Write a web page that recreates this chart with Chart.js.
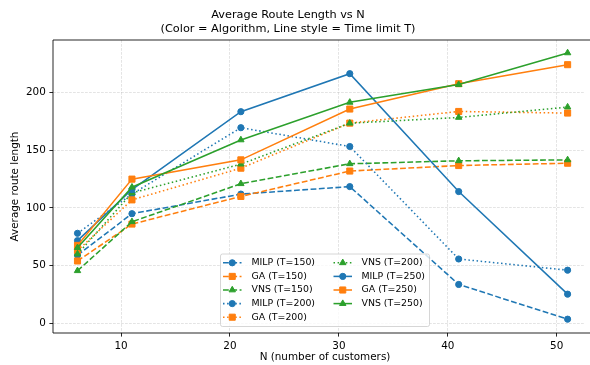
<!DOCTYPE html>
<html><head><meta charset="utf-8">
<script src="https://cdn.jsdelivr.net/npm/chart.js@4.4.1/dist/chart.umd.min.js"></script>
<style>html,body{margin:0;padding:0;background:#fff;}</style>
</head><body>
<canvas id="c" width="590" height="365" style="display:block;width:590px;height:365px"></canvas>
<script>
// ---- data ----
const N = [6, 11, 21, 31, 41, 51];
const milpT150 = [59, 95, 112, 118.5, 33.6, 3.5];
const gaT150   = [54, 86, 110, 132, 136.8, 138.8];
const vnsT150  = [45.5, 88, 121, 138.3, 140.9, 141.7];
const milpT200 = [78, 112, 169.6, 153.3, 55.7, 46];
const gaT200   = [63, 107, 134.5, 173.6, 183.7, 182.3];
const vnsT200  = [60, 113, 138, 173.5, 178.5, 187.5];
const milpT250 = [71.6, 116, 183.5, 216.5, 114.2, 25.2];
const gaT250   = [67.5, 125, 141.7, 185.8, 207.8, 224.3];
const vnsT250  = [65.5, 118, 159, 191.6, 207, 234.5];
const xTicks = [10, 20, 30, 40, 50];
const yTicks = [0, 50, 100, 150, 200];
const titleLines = ['Average Route Length vs N', '(Color = Algorithm, Line style = Time limit T)'];
const xTitle = 'N (number of customers)';
const yTitle = 'Average route length';

const series = [
  {label: 'MILP (T=150)', alg: 'MILP', T: 150, values: milpT150},
  {label: 'GA (T=150)',   alg: 'GA',   T: 150, values: gaT150},
  {label: 'VNS (T=150)',  alg: 'VNS',  T: 150, values: vnsT150},
  {label: 'MILP (T=200)', alg: 'MILP', T: 200, values: milpT200},
  {label: 'GA (T=200)',   alg: 'GA',   T: 200, values: gaT200},
  {label: 'VNS (T=200)',  alg: 'VNS',  T: 200, values: vnsT200},
  {label: 'MILP (T=250)', alg: 'MILP', T: 250, values: milpT250},
  {label: 'GA (T=250)',   alg: 'GA',   T: 250, values: gaT250},
  {label: 'VNS (T=250)',  alg: 'VNS',  T: 250, values: vnsT250}
];

// ---- styles ----
const FONT = 'DejaVu Sans';
const algColor = {MILP: '#1f77b4', GA: '#ff7f0e', VNS: '#2ca02c'};
const algPoint = {MILP: ['circle', 3.1], GA: ['rect', 4.3], VNS: ['triangle', 3.7]};
const tDash = {150: [5.8, 2.5], 200: [1.5, 2.6], 250: []};
const LW = 1.55;

const datasets = series.map((s, i) => ({
  label: s.label,
  data: N.map((n, k) => ({x: n, y: s.values[k]})),
  borderColor: algColor[s.alg],
  backgroundColor: algColor[s.alg],
  borderWidth: LW,
  borderDash: tDash[s.T],
  pointStyle: algPoint[s.alg][0],
  pointRadius: algPoint[s.alg][1],
  pointHoverRadius: algPoint[s.alg][1],
  pointBorderWidth: 1,
  pointBackgroundColor: algColor[s.alg],
  pointBorderColor: algColor[s.alg],
  tension: 0,
  fill: false,
  order: series.length - 1 - i
}));

function drawMarker(ctx, style, r, x, y, color) {
  ctx.save();
  ctx.fillStyle = color; ctx.strokeStyle = color; ctx.lineWidth = 1; ctx.setLineDash([]);
  ctx.beginPath();
  if (style === 'circle') {
    ctx.arc(x, y, r, 0, Math.PI * 2);
  } else if (style === 'rect') {
    const h = r * Math.SQRT1_2;
    ctx.rect(x - h, y - h, 2 * h, 2 * h);
  } else {
    let rad = 0;
    ctx.moveTo(x + Math.sin(rad) * r, y - Math.cos(rad) * r);
    rad += 2 * Math.PI / 3;
    ctx.lineTo(x + Math.sin(rad) * r, y - Math.cos(rad) * r);
    rad += 2 * Math.PI / 3;
    ctx.lineTo(x + Math.sin(rad) * r, y - Math.cos(rad) * r);
    ctx.closePath();
  }
  ctx.fill(); ctx.stroke();
  ctx.restore();
}

const decor = {
  id: 'decor',
  afterDraw(chart) {
    const ctx = chart.ctx, a = chart.chartArea;
    ctx.save();
    // spines (axes box extends past the right canvas edge)
    ctx.strokeStyle = '#000'; ctx.lineWidth = 0.85; ctx.setLineDash([]);
    ctx.beginPath();
    ctx.moveTo(a.right + 10, a.top); ctx.lineTo(a.left, a.top);
    ctx.lineTo(a.left, a.bottom); ctx.lineTo(a.right + 10, a.bottom);
    ctx.stroke();
    // title
    ctx.fillStyle = '#000';
    ctx.font = '11.3px "' + FONT + '"';
    ctx.textAlign = 'center'; ctx.textBaseline = 'middle';
    ctx.fillText(titleLines[0], 288, 15.5);
    ctx.fillText(titleLines[1], 288, 29.5);
    // x axis title, centred on the (wider) axes box
    ctx.font = '10.4px "' + FONT + '"';
    ctx.fillText(xTitle, 325, 357.5);
    // legend
    const bx = 220.5, by = 254, bw = 209, bh = 72.5, rr = 2;
    ctx.beginPath();
    ctx.moveTo(bx + rr, by);
    ctx.arcTo(bx + bw, by, bx + bw, by + bh, rr);
    ctx.arcTo(bx + bw, by + bh, bx, by + bh, rr);
    ctx.arcTo(bx, by + bh, bx, by, rr);
    ctx.arcTo(bx, by, bx + bw, by, rr);
    ctx.closePath();
    ctx.fillStyle = 'rgba(255,255,255,0.8)';
    ctx.fill();
    ctx.strokeStyle = '#cccccc'; ctx.lineWidth = 0.8;
    ctx.stroke();
    const cols = [{h0: 223, h1: 241.5, tx: 251.5}, {h0: 333.5, h1: 352, tx: 361.5}];
    const rowY = [262.8, 276.4, 290, 303.6, 317.2];
    ctx.font = '9.4px "' + FONT + '"';
    ctx.textAlign = 'left'; ctx.textBaseline = 'middle';
    chart.data.datasets.forEach((ds, i) => {
      const col = i < 5 ? cols[0] : cols[1];
      const y = rowY[i < 5 ? i : i - 5];
      ctx.save();
      ctx.strokeStyle = ds.borderColor; ctx.lineWidth = ds.borderWidth;
      ctx.setLineDash(ds.borderDash);
      ctx.beginPath(); ctx.moveTo(col.h0, y); ctx.lineTo(col.h1, y); ctx.stroke();
      ctx.restore();
      drawMarker(ctx, ds.pointStyle, ds.pointRadius, (col.h0 + col.h1) / 2, y, ds.borderColor);
      ctx.fillStyle = '#000';
      ctx.fillText(ds.label, col.tx, y);
    });
    ctx.restore();
  }
};

const gridCommon = {
  color: 'rgba(176,176,176,0.45)',
  lineWidth: 0.75,
  tickColor: '#000',
  tickLength: 3.6,
  tickWidth: 0.85,
  tickBorderDash: []
};

new Chart(document.getElementById('c'), {
  type: 'line',
  data: {datasets},
  plugins: [decor],
  options: {
    responsive: false,
    animation: false,
    devicePixelRatio: 1,
    layout: {padding: {top: 40, left: 0, right: 0, bottom: 0}},
    plugins: {legend: {display: false}, title: {display: false}, tooltip: {enabled: false}},
    scales: {
      x: {
        type: 'linear',
        min: 3.75, max: 52.57,
        afterFit: s => { s.height = 32; },
        afterBuildTicks: s => { s.ticks = xTicks.map(v => ({value: v})); },
        grid: gridCommon,
        border: {display: false, dash: [2.8, 1.2]},
        ticks: {color: '#000', font: {family: FONT, size: 10.4}, padding: 3, maxRotation: 0, autoSkip: false},
        title: {display: false}
      },
      y: {
        type: 'linear',
        min: -8.5, max: 245.7,
        afterFit: s => { s.width = 53; },
        afterBuildTicks: s => { s.ticks = yTicks.map(v => ({value: v})); },
        grid: gridCommon,
        border: {display: false, dash: [2.8, 1.2]},
        ticks: {color: '#000', font: {family: FONT, size: 10.4}, padding: 3.6},
        title: {display: true, text: yTitle, color: '#000', font: {family: FONT, size: 10.4, lineHeight: 1.2}, padding: {top: 9.5, bottom: 0}}
      }
    }
  }
});
</script>
</body></html>
